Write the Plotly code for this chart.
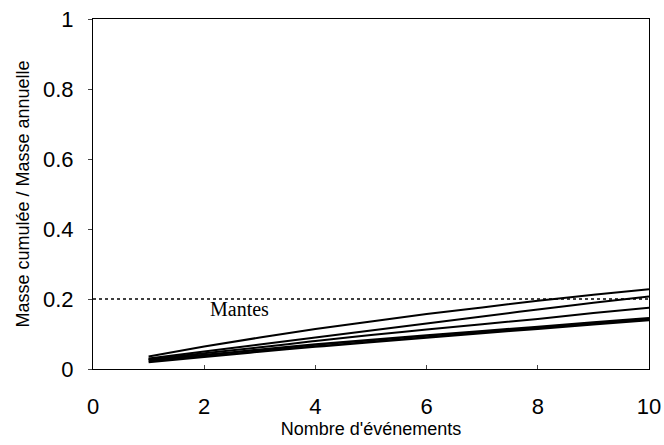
import plotly.graph_objects as go

events = [1, 2, 3, 4, 5, 6, 7, 8, 9, 10]

curve_a = [0.036, 0.064, 0.090, 0.114, 0.136, 0.157, 0.176, 0.195, 0.212, 0.228]
curve_b = [0.030, 0.050, 0.070, 0.090, 0.110, 0.130, 0.150, 0.170, 0.189, 0.207]
curve_c = [0.028, 0.045, 0.062, 0.080, 0.097, 0.113, 0.128, 0.143, 0.160, 0.175]
curve_d = [0.025, 0.040, 0.055, 0.070, 0.083, 0.096, 0.108, 0.120, 0.133, 0.145]
curve_e = [0.020, 0.035, 0.050, 0.064, 0.077, 0.090, 0.103, 0.115, 0.128, 0.140]

mantes_x = [0, 10]
mantes_y = [0.2, 0.2]

x_ticks = [0, 2, 4, 6, 8, 10]
y_ticks = [0, 0.2, 0.4, 0.6, 0.8, 1]
y_labels = ["0", "0.2", "0.4", "0.6", "0.8", "1"]

fig = go.Figure()
fig.add_trace(go.Scatter(x=mantes_x, y=mantes_y, mode="lines",
                         line=dict(color="black", width=1.5, dash="dot"), showlegend=False))
for ys, w in [(curve_a, 2), (curve_b, 2), (curve_c, 2), (curve_d, 2.5), (curve_e, 2.5)]:
    fig.add_trace(go.Scatter(x=events, y=ys, mode="lines",
                             line=dict(color="black", width=w, shape="spline"), showlegend=False))

fig.add_annotation(x=2.64, y=0.172, text="Mantes", showarrow=False,
                   font=dict(family="Liberation Serif", size=20, color="black"))

axis_font = dict(family="Liberation Sans", size=22, color="black")
title_font = dict(family="Liberation Sans", size=18, color="black")
fig.update_xaxes(range=[0, 10], tickvals=x_ticks, ticks="inside", ticklen=4,
                 showline=True, linecolor="black", linewidth=1, mirror=True,
                 showgrid=False, zeroline=False, tickfont=axis_font, ticklabelstandoff=18,
                 automargin=False,
                 title=dict(text="Nombre d'événements", font=title_font, standoff=2))
fig.update_yaxes(range=[0, 1], tickvals=y_ticks, ticktext=y_labels, ticks="outside", ticklen=4,
                 showline=True, linecolor="black", linewidth=1, mirror=True,
                 showgrid=False, zeroline=False, tickfont=axis_font, ticklabelstandoff=10,
                 automargin=False,
                 title=dict(text="Masse cumulée / Masse annuelle", font=title_font, standoff=8))
fig.update_layout(width=664, height=445, margin=dict(l=93, r=15, t=19, b=76),
                  paper_bgcolor="white", plot_bgcolor="white")
# drop the browser's default body margin so the figure sits at the page corner
fig.write_html("out.html", config={"displayModeBar": False},
               post_script="document.body.style.margin='0px';")
